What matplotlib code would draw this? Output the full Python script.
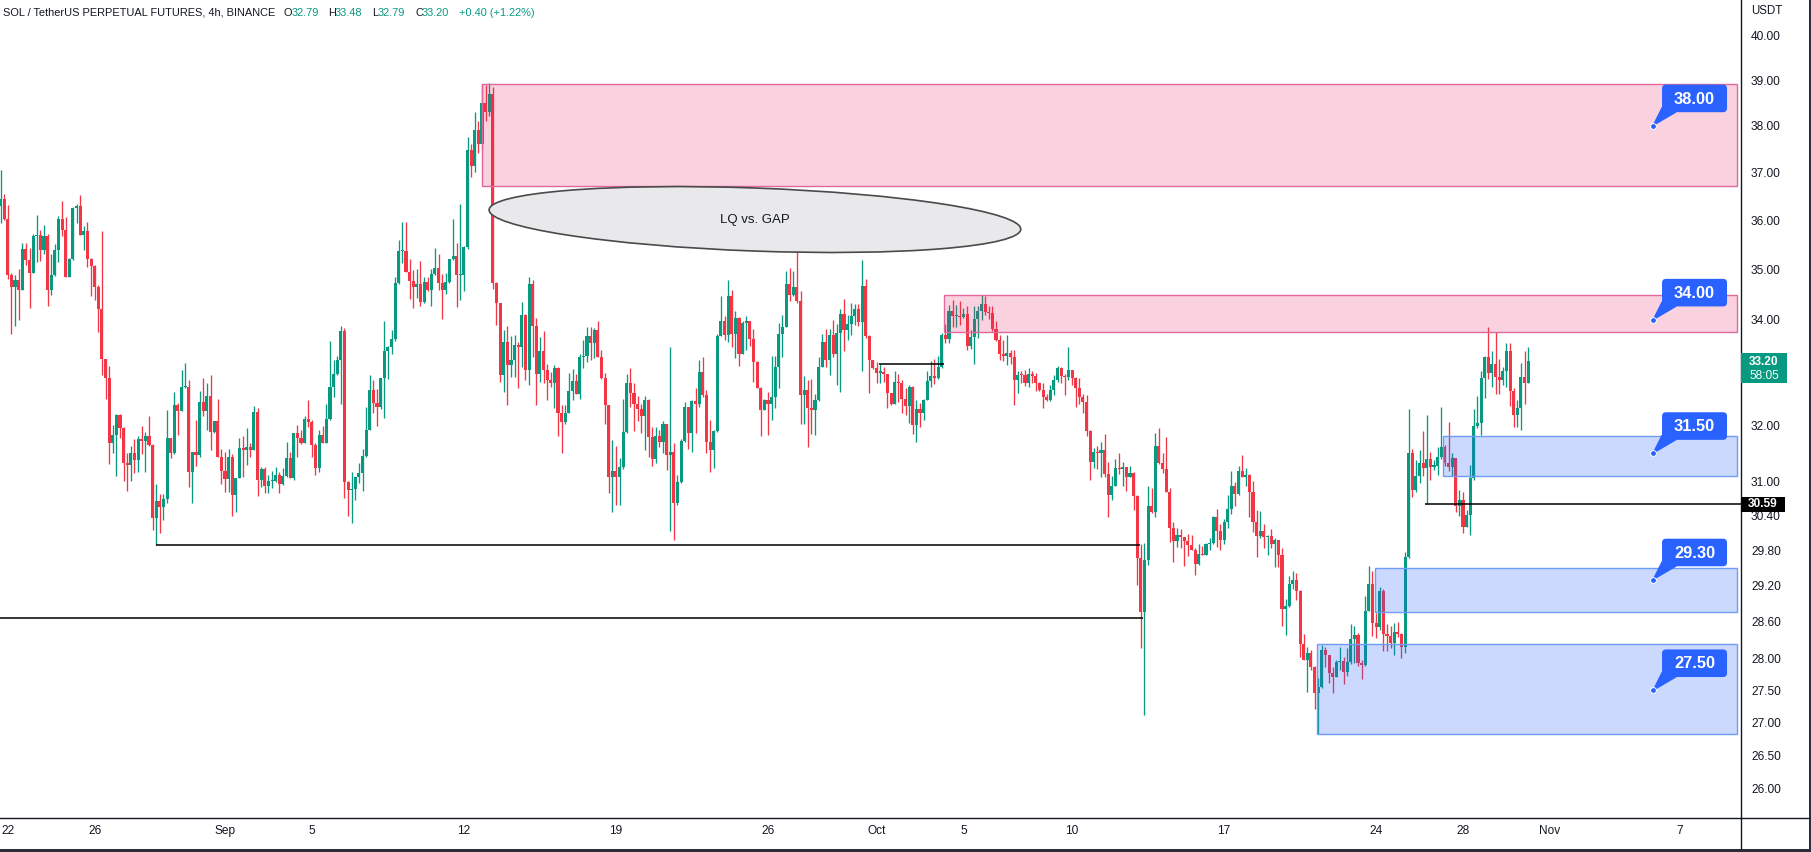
import numpy as np
import pandas as pd
import matplotlib
matplotlib.use("Agg")
import matplotlib.pyplot as plt
import matplotlib.dates as mdates
from matplotlib.patches import Rectangle, Ellipse, FancyBboxPatch, Polygon
from matplotlib.ticker import FixedLocator, NullLocator
from matplotlib.transforms import IdentityTransform

plt.rcParams['font.family'] = ['Liberation Sans', 'DejaVu Sans']

# SOL/USDT perp, 4h candles (open = previous close)
first_open = 36.28
start_time = '2022-08-21 16:00'
closes = [
    36.44, 36.03, 34.88, 34.64, 34.78, 34.58, 35.40, 35.19, 34.93, 35.67,
    35.69, 35.39, 35.67, 34.58, 34.88, 35.38, 36.02, 35.79, 34.85, 35.20,
    36.25, 36.28, 35.70, 35.77, 35.20, 35.07, 34.65, 34.21, 33.24, 32.88,
    31.68, 31.83, 32.19, 31.95, 31.32, 31.29, 31.50, 31.37, 31.75, 31.73,
    31.82, 31.65, 30.36, 30.65, 30.55, 30.68, 31.77, 31.51, 32.38, 32.28,
    32.71, 32.72, 31.17, 31.52, 31.46, 32.44, 32.28, 32.55, 31.89, 32.09,
    31.44, 31.19, 31.04, 31.43, 30.75, 31.05, 31.59, 31.55, 31.61, 31.55,
    32.25, 31.02, 31.21, 30.91, 31.00, 31.00, 31.11, 30.95, 31.09, 31.41,
    31.06, 31.86, 31.77, 31.68, 32.13, 32.07, 31.65, 31.24, 31.83, 31.68,
    32.13, 32.71, 32.97, 33.23, 33.78, 30.99, 30.85, 30.86, 31.07, 31.15,
    31.45, 31.93, 32.67, 32.42, 32.34, 32.88, 33.39, 33.47, 33.62, 34.72,
    35.36, 35.36, 34.95, 34.77, 34.65, 34.70, 34.34, 34.74, 34.58, 34.90,
    35.03, 34.73, 34.58, 34.75, 35.21, 35.26, 34.88, 34.88, 35.45, 37.47,
    37.13, 37.90, 37.60, 38.50, 38.30, 38.70, 34.72, 34.33, 32.94, 33.58,
    33.13, 33.23, 33.51, 33.47, 34.10, 33.04, 34.71, 33.88, 32.97, 33.40,
    33.04, 32.84, 32.80, 33.07, 32.24, 32.07, 32.23, 32.65, 32.83, 32.59,
    33.29, 33.30, 33.68, 33.56, 33.81, 33.29, 32.88, 32.38, 31.07, 31.19,
    31.08, 31.25, 31.89, 32.80, 32.61, 32.40, 32.30, 32.17, 32.47, 31.80,
    31.39, 31.81, 31.71, 32.03, 31.47, 31.53, 30.62, 30.99, 31.73, 32.35,
    31.87, 32.46, 32.40, 33.00, 32.57, 31.71, 31.56, 31.91, 33.68, 33.97,
    33.71, 34.47, 33.73, 34.03, 33.35, 33.94, 33.97, 33.62, 33.19, 32.69,
    32.29, 32.48, 32.41, 32.53, 33.10, 33.73, 33.86, 34.71, 34.49, 34.64,
    34.36, 32.56, 32.66, 32.32, 32.29, 32.47, 33.09, 33.58, 33.23, 33.71,
    33.34, 33.74, 34.12, 33.81, 33.92, 34.08, 34.21, 33.95, 34.67, 33.69,
    33.23, 33.07, 32.99, 33.00, 32.96, 32.60, 32.40, 32.82, 32.79, 32.50,
    32.36, 32.71, 32.01, 32.30, 32.24, 32.48, 32.83, 32.92, 32.88, 33.09,
    33.71, 33.63, 34.18, 34.07, 34.08, 34.05, 34.12, 33.50, 33.66, 34.01,
    34.18, 34.31, 34.15, 34.13, 33.82, 33.61, 33.34, 33.30, 33.36, 33.28,
    32.85, 32.95, 32.94, 32.80, 32.97, 32.93, 32.79, 32.67, 32.54, 32.47,
    32.67, 32.84, 33.07, 32.93, 32.90, 33.04, 32.88, 32.69, 32.54, 32.44,
    31.91, 31.35, 31.53, 31.51, 31.55, 31.13, 30.76, 30.92, 31.23, 31.22,
    31.26, 31.08, 31.14, 30.73, 29.67, 28.76, 29.63, 30.57, 30.45, 31.63,
    31.32, 31.21, 30.80, 30.18, 29.96, 30.06, 30.02, 29.96, 29.89, 29.80,
    29.56, 29.74, 29.71, 29.91, 29.92, 30.37, 30.12, 29.97, 30.29, 30.51,
    30.92, 30.78, 31.18, 31.08, 31.11, 30.80, 30.29, 30.04, 30.13, 30.02,
    30.04, 29.91, 29.97, 29.71, 28.81, 28.87, 29.23, 29.30, 29.11, 28.24,
    27.99, 28.10, 27.87, 27.46, 27.56, 28.14, 28.06, 27.77, 27.72, 27.95,
    27.97, 27.79, 27.95, 28.32, 28.38, 27.93, 27.90, 28.78, 29.23, 28.59,
    28.51, 29.11, 28.41, 28.37, 28.26, 28.44, 28.41, 28.19, 29.69, 31.51,
    30.84, 31.09, 31.32, 31.23, 31.39, 31.26, 31.27, 31.44, 31.61, 31.33,
    31.26, 31.41, 30.57, 30.66, 30.20, 30.41, 31.05, 32.00, 32.05, 32.88,
    33.28, 32.98, 33.15, 32.90, 32.85, 33.01, 33.40, 32.65, 32.19, 32.32,
    32.91, 32.79, 33.20,
]
highs = [
    37.05, 36.55, 36.31, 34.93, 34.88, 35.01, 35.53, 35.53, 35.42, 35.72,
    36.10, 35.79, 35.90, 35.71, 35.31, 35.50, 36.08, 36.39, 36.06, 35.22,
    36.26, 36.34, 36.52, 35.88, 35.96, 35.22, 35.08, 34.68, 35.77, 33.24,
    33.12, 32.01, 32.21, 32.21, 31.98, 31.50, 31.63, 31.75, 31.82, 32.00,
    31.89, 32.17, 31.66, 30.95, 30.77, 30.77, 32.29, 31.77, 32.62, 32.42,
    33.04, 33.17, 32.85, 31.52, 32.10, 32.65, 32.88, 32.79, 32.94, 32.09,
    32.50, 31.57, 31.53, 31.57, 31.49, 31.05, 31.77, 31.81, 31.95, 31.69,
    32.36, 32.32, 31.26, 31.26, 31.11, 31.19, 31.26, 31.17, 31.23, 31.70,
    31.53, 31.86, 32.01, 31.92, 32.18, 32.48, 32.10, 31.69, 31.92, 31.99,
    32.41, 33.59, 33.23, 33.31, 33.89, 33.84, 31.00, 31.17, 31.07, 31.32,
    31.57, 32.35, 32.94, 32.85, 32.68, 32.88, 33.98, 33.49, 33.81, 34.85,
    35.59, 35.96, 35.96, 35.21, 34.99, 35.01, 35.16, 34.85, 34.85, 35.01,
    35.42, 35.30, 34.91, 34.93, 35.21, 36.02, 35.53, 36.33, 35.47, 37.75,
    37.60, 38.30, 38.10, 38.92, 38.90, 38.93, 38.85, 34.75, 34.33, 33.80,
    33.89, 33.69, 33.71, 33.58, 34.34, 34.12, 34.84, 34.79, 34.03, 33.66,
    33.79, 33.15, 33.00, 33.13, 33.10, 32.39, 32.38, 32.98, 33.05, 32.97,
    33.35, 33.61, 33.87, 33.87, 33.84, 33.97, 33.42, 32.98, 32.38, 31.74,
    31.63, 31.41, 32.50, 32.97, 33.07, 32.80, 32.55, 32.40, 32.55, 32.50,
    31.98, 31.97, 31.93, 32.09, 32.04, 33.48, 31.68, 31.11, 31.75, 32.44,
    32.35, 32.47, 32.69, 33.23, 33.29, 32.67, 32.10, 31.93, 33.73, 34.47,
    34.08, 34.78, 34.59, 34.18, 34.06, 33.97, 34.07, 33.95, 33.82, 33.21,
    32.72, 32.50, 32.63, 33.31, 33.31, 33.94, 34.10, 34.97, 35.03, 34.97,
    35.40, 34.56, 32.92, 32.85, 32.86, 32.58, 33.29, 33.73, 33.82, 33.82,
    33.99, 33.92, 34.21, 34.40, 34.10, 34.33, 34.31, 34.31, 35.19, 34.81,
    33.71, 33.23, 33.18, 33.15, 33.10, 32.96, 32.60, 33.01, 32.96, 32.85,
    32.69, 32.75, 32.73, 32.48, 32.42, 32.50, 33.01, 33.20, 33.24, 33.31,
    33.74, 33.91, 34.30, 34.38, 34.30, 34.36, 34.23, 34.28, 33.81, 34.28,
    34.28, 34.49, 34.46, 34.28, 34.28, 33.97, 33.71, 33.61, 33.71, 33.41,
    33.42, 33.01, 33.01, 33.04, 33.07, 33.01, 32.99, 32.82, 32.79, 32.58,
    32.76, 32.94, 33.12, 33.10, 32.96, 33.48, 33.02, 32.90, 32.88, 32.58,
    32.56, 31.92, 31.60, 31.63, 31.71, 31.85, 31.35, 31.09, 31.39, 31.51,
    31.35, 31.26, 31.27, 31.17, 30.76, 29.91, 29.92, 30.91, 30.88, 31.86,
    31.95, 31.50, 31.80, 30.88, 30.29, 30.18, 30.16, 30.03, 30.07, 30.06,
    29.83, 29.91, 29.87, 29.92, 30.01, 30.38, 30.51, 30.25, 30.33, 30.76,
    31.19, 30.99, 31.27, 31.47, 31.23, 31.13, 31.01, 30.50, 30.47, 30.25,
    30.06, 30.16, 30.00, 29.98, 29.83, 28.97, 29.37, 29.45, 29.42, 29.12,
    28.40, 28.20, 28.14, 27.88, 27.69, 28.22, 28.19, 28.07, 27.87, 27.99,
    28.20, 28.03, 28.17, 28.56, 28.53, 28.42, 27.98, 29.02, 29.53, 29.45,
    28.74, 29.18, 29.15, 28.56, 28.53, 28.58, 28.60, 28.42, 29.77, 32.30,
    31.57, 31.37, 31.55, 31.91, 32.20, 31.53, 31.38, 31.61, 32.34, 31.65,
    32.07, 31.50, 31.41, 30.85, 30.80, 30.50, 31.29, 32.30, 32.55, 33.01,
    33.30, 33.87, 33.39, 33.76, 33.24, 33.10, 33.55, 33.55, 32.69, 32.47,
    33.17, 33.39, 33.48,
]
lows = [
    35.93, 36.00, 34.81, 33.72, 33.89, 33.99, 34.58, 35.08, 34.24, 34.95,
    35.15, 35.17, 35.30, 34.28, 34.48, 34.86, 35.15, 35.67, 34.85, 34.84,
    35.18, 35.94, 35.69, 35.38, 35.05, 34.46, 34.38, 33.76, 32.94, 32.50,
    31.31, 31.50, 31.10, 31.77, 31.01, 30.82, 31.01, 31.15, 31.17, 31.49,
    31.17, 31.63, 30.15, 29.89, 30.09, 30.32, 30.62, 31.41, 31.49, 31.83,
    32.29, 32.69, 30.89, 30.62, 31.27, 31.44, 32.17, 31.92, 31.55, 31.86,
    31.44, 30.95, 30.80, 30.80, 30.38, 30.45, 31.05, 31.07, 31.29, 31.44,
    31.55, 30.73, 30.89, 30.79, 30.79, 30.88, 30.99, 30.79, 30.93, 31.08,
    31.05, 31.02, 31.44, 31.67, 31.69, 31.98, 31.44, 31.11, 31.17, 31.68,
    31.69, 32.11, 32.53, 32.95, 32.40, 30.70, 30.39, 30.27, 30.67, 30.96,
    30.82, 31.44, 31.92, 32.24, 32.00, 32.31, 32.15, 32.87, 33.35, 33.60,
    34.71, 35.13, 34.95, 34.40, 34.24, 34.42, 34.27, 34.33, 34.56, 34.27,
    34.88, 34.59, 34.02, 34.51, 34.73, 35.19, 34.26, 34.38, 34.56, 35.40,
    36.90, 37.00, 37.40, 37.50, 38.10, 38.20, 34.60, 33.90, 32.82, 32.63,
    32.38, 32.91, 32.91, 32.69, 33.10, 32.85, 32.75, 33.29, 32.38, 32.82,
    32.79, 32.47, 32.72, 32.33, 31.81, 31.50, 32.04, 32.23, 32.48, 32.59,
    32.50, 33.07, 33.19, 33.23, 33.26, 33.29, 32.86, 32.03, 30.79, 30.45,
    30.58, 30.58, 31.21, 31.87, 32.35, 31.91, 32.09, 31.86, 31.55, 31.44,
    31.27, 31.32, 31.62, 31.51, 31.20, 30.12, 29.97, 30.58, 30.97, 31.70,
    31.57, 31.53, 31.86, 32.35, 32.53, 31.51, 31.17, 31.23, 31.89, 33.68,
    33.61, 33.58, 33.47, 33.26, 33.11, 33.35, 33.42, 33.50, 32.82, 32.69,
    31.81, 32.29, 31.83, 32.11, 32.32, 32.69, 33.28, 33.86, 34.36, 34.46,
    34.33, 32.04, 32.04, 31.62, 31.84, 31.83, 32.46, 33.09, 33.09, 32.95,
    33.29, 32.75, 32.63, 33.39, 33.61, 33.71, 33.90, 33.88, 33.01, 33.64,
    32.61, 33.05, 32.79, 32.79, 32.82, 32.32, 32.38, 32.40, 32.44, 32.23,
    32.20, 32.05, 31.84, 31.70, 31.98, 32.11, 32.47, 32.72, 32.77, 32.86,
    33.07, 33.56, 33.55, 33.86, 33.87, 33.90, 34.03, 33.42, 33.44, 33.16,
    33.64, 34.00, 34.10, 34.01, 33.78, 33.60, 33.22, 33.20, 33.13, 33.16,
    32.38, 32.60, 32.79, 32.74, 32.72, 32.80, 32.65, 32.65, 32.32, 32.46,
    32.46, 32.56, 32.82, 32.80, 32.56, 32.84, 32.76, 32.35, 32.40, 32.24,
    31.81, 31.02, 31.24, 31.22, 31.07, 31.08, 30.37, 30.66, 30.91, 31.13,
    30.91, 30.82, 31.07, 30.49, 29.21, 28.18, 27.12, 29.54, 30.44, 30.37,
    31.30, 31.15, 30.80, 29.94, 29.60, 29.86, 29.83, 29.53, 29.70, 29.80,
    29.38, 29.54, 29.71, 29.71, 29.81, 29.91, 29.85, 29.81, 29.91, 30.18,
    30.42, 30.56, 30.76, 31.08, 30.92, 30.37, 30.11, 29.69, 30.01, 29.83,
    29.71, 29.83, 29.52, 29.52, 28.54, 28.38, 28.85, 29.15, 28.96, 28.03,
    27.99, 27.47, 27.82, 27.21, 26.82, 27.54, 27.87, 27.62, 27.46, 27.72,
    27.82, 27.60, 27.73, 27.92, 27.94, 27.88, 27.68, 27.88, 28.78, 28.37,
    28.33, 28.47, 28.13, 28.13, 28.18, 28.06, 28.35, 28.02, 28.09, 29.67,
    30.72, 30.81, 30.96, 31.09, 30.59, 31.02, 31.20, 31.11, 31.39, 31.27,
    31.19, 31.09, 30.45, 30.38, 30.09, 30.20, 30.06, 31.02, 31.95, 31.83,
    32.52, 32.86, 32.72, 32.58, 32.58, 32.76, 32.72, 32.36, 31.98, 31.98,
    31.92, 32.41, 32.79,
]

# drawn zones (supply = pink, demand = blue)
zone_starts = ['2022-09-12 20:00', '2022-10-04 03:00', '2022-10-27 02:00',
               '2022-10-23 23:00', '2022-10-21 07:00']
zone_bottoms = [36.71, 33.76, 31.09, 28.77, 26.82]
zone_tops = [38.92, 34.48, 31.82, 29.49, 28.24]
zone_kinds = ['supply', 'supply', 'demand', 'demand', 'demand']
zone_end = '2022-11-09 14:40'

# horizontal level lines
level_prices = [29.89, 28.66, 33.15, 30.59]
level_starts = ['2022-08-28 20:00', '2022-08-21 12:00', '2022-10-01 03:00', '2022-10-26 06:00']
level_ends = ['2022-10-13 03:00', '2022-10-13 06:00', '2022-10-04 03:00', '2022-11-10 12:00']

# callout labels
callout_prices = [38.00, 34.00, 31.50, 29.30, 27.50]
callout_time = '2022-11-05 18:00'

# ellipse note
note_text = 'LQ vs. GAP'
note_time = '2022-09-25 09:36'
note_price = 36.01

y_ticks = [26, 26.5, 27, 27.5, 28, 28.6, 29.2, 29.8, 30.4, 31, 32, 34, 35, 36, 37, 38, 39, 40]
x_tick_dates = ['2022-08-22', '2022-08-26', '2022-09-01', '2022-09-05', '2022-09-12', '2022-09-19',
                '2022-09-26', '2022-10-01', '2022-10-05', '2022-10-10', '2022-10-17', '2022-10-24',
                '2022-10-28', '2022-11-01', '2022-11-07']
x_tick_labels = ['22', '26', 'Sep', '5', '12', '19', '26', 'Oct', '5', '10', '17', '24', '28', 'Nov', '7']

last_price = 33.20
countdown = '58:05'
marked_price = 30.59

GREEN = '#089981'
RED = '#f23645'
BLUE = '#2962ff'
TXT = '#131722'

W, H = 1811, 852

# ---- data prep
closes = np.array(closes)
opens = np.concatenate([[first_open], closes[:-1]])
highs = np.maximum(np.array(highs), np.maximum(opens, closes))
lows = np.minimum(np.array(lows), np.minimum(opens, closes))
times = mdates.date2num(pd.date_range(start_time, periods=len(closes), freq='4h'))
up = closes >= opens

fig = plt.figure(figsize=(W / 100, H / 100), dpi=100)
fig.patch.set_facecolor('white')
ax = fig.add_axes([0, 34 / H, 1741 / W, 818 / H])
ax.set_yscale('log')
ax.set_ylim(25.563, 40.833)
ax.set_xlim(mdates.date2num(pd.Timestamp('2022-08-21 15:23')),
            mdates.date2num(pd.Timestamp('2022-11-09 19:12')))

# candles
col = np.where(up, GREEN, RED)
ax.vlines(times, lows, highs, colors=col, linewidth=0.95, zorder=2)
body_lo = np.minimum(opens, closes)
body_h = np.maximum(np.abs(closes - opens), 0.02)
ax.bar(times, body_h, bottom=body_lo, width=0.142, color=col, linewidth=0, zorder=2.5)

# zones
zend = mdates.date2num(pd.Timestamp(zone_end))
for s, b, t, k in zip(zone_starts, zone_bottoms, zone_tops, zone_kinds):
    x0 = mdates.date2num(pd.Timestamp(s))
    if k == 'supply':
        fc, ec = (233 / 255, 30 / 255, 99 / 255, 0.2), '#e0689a'
    else:
        fc, ec = (41 / 255, 98 / 255, 255 / 255, 0.24), '#6e9cf7'
    ax.add_patch(Rectangle((x0, b), zend - x0, t - b, facecolor=fc, edgecolor=ec,
                           linewidth=1, zorder=3))

# level lines
for p, s, e in zip(level_prices, level_starts, level_ends):
    ax.hlines(p, mdates.date2num(pd.Timestamp(s)), mdates.date2num(pd.Timestamp(e)),
              color='black', linewidth=1.1, zorder=3.5)

# ellipse note (drawn in screen pixels so it keeps its tilt)
cx, cy = ax.transData.transform((mdates.date2num(pd.Timestamp(note_time)), note_price))
ax.add_patch(Ellipse((cx, cy), 532, 63, angle=-2.1, transform=IdentityTransform(),
                     facecolor='#e9e9ec', edgecolor='#4a4a4a', linewidth=1.2, zorder=4))
ax.text(mdates.date2num(pd.Timestamp(note_time)), note_price, note_text, ha='center',
        va='center', fontsize=9.5, color=TXT, zorder=5)

# callouts: rounded label box with a tail pointing at the level
ct = mdates.date2num(pd.Timestamp(callout_time))
for p in callout_prices:
    dx, dy = ax.transData.transform((ct, p))
    bx, by = dx + 41.5, dy + 27.2
    ax.add_patch(FancyBboxPatch((bx - 28.5, by - 9.8), 57, 19.6,
                                boxstyle='round,pad=4,rounding_size=4',
                                transform=IdentityTransform(), facecolor=BLUE,
                                edgecolor='none', zorder=6))
    ax.add_patch(Polygon([(dx + 9, dy + 18), (dx + 23, dy + 13.5), (dx, dy)],
                         closed=True, transform=IdentityTransform(), facecolor=BLUE,
                         edgecolor=BLUE, linewidth=0.8, zorder=6))
    ax.annotate(f'{p:.2f}', xy=(ct, p), xytext=(41.5, 26.5), textcoords='offset pixels',
                ha='center', va='center', fontsize=11.8, fontweight='bold', color='white',
                zorder=7)
    ax.plot(ct, p, 'o', ms=4.2, color=BLUE, mec='white', mew=0.7, zorder=7)

# axes styling
for sp in ['top', 'left']:
    ax.spines[sp].set_visible(False)
for sp in ['right', 'bottom']:
    ax.spines[sp].set_color(TXT)
    ax.spines[sp].set_linewidth(1)
ax.yaxis.tick_right()
ax.yaxis.set_major_locator(FixedLocator(y_ticks))
ax.yaxis.set_minor_locator(NullLocator())
ax.set_yticklabels([f'{v:.2f}' for v in y_ticks])
ax.tick_params(axis='y', length=0, pad=7.2, labelsize=8.6, labelcolor=TXT)
ax.set_xticks(mdates.date2num(pd.to_datetime(x_tick_dates)))
ax.set_xticklabels(x_tick_labels)
ax.tick_params(axis='x', length=0, pad=5, labelsize=8.6, labelcolor=TXT)

# right axis price tags
def price_y(p):
    return ax.transData.transform((ax.get_xlim()[0], p))[1]

y_last = price_y(last_price)
fig.add_artist(Rectangle((1741, y_last - 22), 46, 30, transform=IdentityTransform(),
                         facecolor=GREEN, edgecolor='none', zorder=10))
fig.text(1764 / W, (y_last - 0.5) / H, f'{last_price:.2f}', ha='center', va='center',
         fontsize=8.6, fontweight='bold', color='white', zorder=11)
fig.text(1764 / W, (y_last - 15) / H, countdown, ha='center', va='center',
         fontsize=8.6, color='white', zorder=11)

y_mark = price_y(marked_price)
fig.add_artist(Rectangle((1741, y_mark - 7.5), 44, 15, transform=IdentityTransform(),
                         facecolor='black', edgecolor='none', zorder=10))
fig.text(1763 / W, y_mark / H, f'{marked_price:.2f}', ha='center', va='center',
         fontsize=8.6, fontweight='bold', color='white', zorder=11)

fig.text(1751 / W, 1 - 11.5 / H, 'USDT', ha='left', va='center', fontsize=8.3, color=TXT)

# frame lines outside the plot
fig.add_artist(plt.Line2D([1741 / W, 1], [1 - 818 / H] * 2, color=TXT, lw=1))
fig.add_artist(plt.Line2D([1741 / W] * 2, [1 - 818 / H, 1 - 849 / H], color=TXT, lw=1))
fig.add_artist(Rectangle((0, 0), 1, 3.5 / H, transform=fig.transFigure,
                         facecolor='#2a2e39', edgecolor='none'))
fig.add_artist(Rectangle((1808.5 / W, 0), 2.5 / W, 1, transform=fig.transFigure,
                         facecolor='#2a2e39', edgecolor='none'))

# header legend
hy = 1 - 12.5 / H
pieces = [(3, 'SOL / TetherUS PERPETUAL FUTURES, 4h, BINANCE', TXT),
          (284, 'O', TXT), (291.6, '32.79', GREEN),
          (328.4, 'H', TXT), (335, '33.48', GREEN),
          (372, 'L', TXT), (378, '32.79', GREEN),
          (415, 'C', TXT), (421.7, '33.20', GREEN),
          (459, '+0.40 (+1.22%)', GREEN)]
for x, s, c in pieces:
    fig.text(x / W, hy, s, ha='left', va='center', fontsize=7.9, color=c)

fig.savefig('out.png', dpi=100, facecolor='white')
